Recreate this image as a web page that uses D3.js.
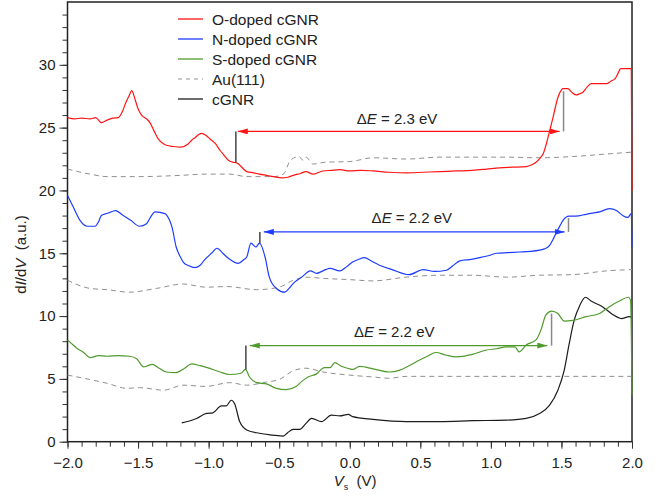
<!DOCTYPE html>
<html>
<head>
<meta charset="utf-8">
<script src="https://cdn.jsdelivr.net/npm/d3@7"></script>
<style>
  body { margin: 0; background: #fff; }
  svg { font-family: "Liberation Sans", Arial, sans-serif; }
</style>
</head>
<body>
<svg id="chart" width="658" height="500"></svg>
<script>

// spectra: [Vs (V), dI/dV (a.u.)]
let oDoped = [[-2.0,25.8],[-1.95,25.7],[-1.9,25.75],[-1.84,25.7],[-1.8,25.8],[-1.76,25.4],[-1.72,25.6],[-1.68,25.75],
  [-1.64,25.8],[-1.61,26.3],[-1.59,26.9],[-1.565,27.5],[-1.545,27.95],[-1.52,27.2],[-1.5,26.5],[-1.475,26.0],
  [-1.44,25.7],[-1.416,25.4],[-1.385,24.7],[-1.357,24.1],[-1.33,23.8],[-1.3,23.6],[-1.25,23.5],[-1.2,23.45],
  [-1.145,23.7],[-1.12,24.0],[-1.097,24.2],[-1.07,24.45],[-1.05,24.55],[-1.02,24.4],[-0.99,24.1],[-0.95,23.7],
  [-0.92,23.2],[-0.89,22.8],[-0.86,22.4],[-0.83,22.25],[-0.8,22.2],[-0.77,21.9],[-0.73,21.5],[-0.68,21.4],
  [-0.64,21.3],[-0.59,21.2],[-0.54,21.1],[-0.48,21.0],[-0.44,21.05],[-0.4,21.2],[-0.35,21.35],[-0.31,21.5],
  [-0.26,21.3],[-0.19,21.55],[-0.13,21.6],[-0.07,21.65],[0.0,21.55],[0.08,21.6],[0.165,21.55],[0.28,21.45],
  [0.4,21.4],[0.52,21.45],[0.64,21.5],[0.75,21.55],[0.87,21.6],[0.97,21.7],[1.06,21.8],[1.15,21.85],[1.25,21.9],
  [1.29,22.05],[1.32,22.25],[1.35,22.6],[1.37,22.9],[1.4,24.0],[1.42,24.9],[1.44,25.8],[1.475,27.4],[1.5,28.0],
  [1.51,28.1],[1.545,28.1],[1.575,27.8],[1.605,27.6],[1.63,27.7],[1.65,27.8],[1.68,28.2],[1.71,28.5],[1.76,28.5],
  [1.82,28.5],[1.85,28.7],[1.88,28.9],[1.9,29.3],[1.92,29.7],[1.96,29.7],[1.995,29.7],[2.0,20.0]];

let nDoped = [[-2.0,19.6],[-1.96,18.7],[-1.91,17.6],[-1.86,17.15],[-1.805,17.15],[-1.78,17.5],[-1.76,18.0],
  [-1.71,18.2],[-1.66,18.4],[-1.605,18.0],[-1.55,17.6],[-1.49,17.15],[-1.44,17.35],[-1.41,17.9],[-1.38,18.3],
  [-1.31,18.15],[-1.28,17.7],[-1.26,17.1],[-1.23,15.5],[-1.2,14.7],[-1.18,14.3],[-1.14,14.0],[-1.1,13.85],
  [-1.06,14.05],[-1.03,14.45],[-0.98,15.0],[-0.94,15.4],[-0.9,15.0],[-0.86,14.6],[-0.79,14.2],[-0.75,14.5],
  [-0.73,14.7],[-0.7,15.8],[-0.665,15.5],[-0.64,15.8],[-0.6,14.7],[-0.57,13.1],[-0.52,12.2],[-0.46,11.9],
  [-0.43,12.2],[-0.4,12.6],[-0.34,13.1],[-0.28,13.6],[-0.235,13.4],[-0.19,13.6],[-0.14,13.8],[-0.07,13.6],
  [-0.02,13.95],[0.02,14.3],[0.06,14.5],[0.105,14.65],[0.15,14.4],[0.21,14.05],[0.3,13.7],[0.42,13.3],[0.52,13.7],
  [0.6,13.55],[0.685,13.65],[0.73,14.0],[0.78,14.4],[0.85,14.5],[0.92,14.65],[0.98,14.8],[1.04,15.0],[1.12,15.05],
  [1.2,15.1],[1.28,15.15],[1.345,15.25],[1.38,15.35],[1.415,15.6],[1.44,16.1],[1.46,16.55],[1.49,17.2],
  [1.51,17.6],[1.555,17.95],[1.6,17.95],[1.675,18.1],[1.72,18.2],[1.77,18.3],[1.84,18.55],[1.89,18.4],
  [1.935,18.0],[1.97,17.85],[1.995,18.15],[2.0,15.5]];

let sDoped = [[-2.0,8.1],[-1.96,7.7],[-1.93,7.4],[-1.89,7.15],[-1.84,6.7],[-1.78,6.85],[-1.72,6.8],[-1.64,6.85],
  [-1.56,6.8],[-1.51,6.6],[-1.46,5.95],[-1.43,6.05],[-1.4,6.15],[-1.35,5.85],[-1.3,5.55],[-1.23,5.5],[-1.17,5.85],
  [-1.12,6.2],[-1.06,6.05],[-1.01,5.9],[-0.92,5.55],[-0.85,5.35],[-0.77,5.45],[-0.74,5.75],[-0.71,5.15],
  [-0.66,4.7],[-0.59,4.6],[-0.52,4.25],[-0.45,4.15],[-0.38,4.4],[-0.34,4.8],[-0.295,5.15],[-0.235,5.4],
  [-0.18,5.9],[-0.14,5.9],[-0.105,6.3],[-0.06,6.0],[0.0,5.8],[0.02,5.75],[0.07,6.0],[0.165,5.8],[0.28,5.55],
  [0.355,5.7],[0.43,6.1],[0.495,6.5],[0.55,6.8],[0.61,7.1],[0.68,6.9],[0.755,6.75],[0.87,6.95],[0.97,7.3],
  [1.04,7.4],[1.11,7.55],[1.17,7.55],[1.2,7.15],[1.25,7.7],[1.32,8.1],[1.355,8.9],[1.39,10.1],[1.43,10.4],
  [1.475,10.2],[1.52,9.6],[1.58,9.65],[1.675,9.95],[1.77,10.2],[1.84,10.75],[1.91,11.2],[1.975,11.5],
  [1.99,11.25],[2.0,3.7]];

let cgnr = [[-1.19,1.5],[-1.085,1.85],[-1.015,2.25],[-0.97,2.3],[-0.91,2.85],[-0.875,2.85],[-0.84,3.3],
  [-0.815,3.0],[-0.78,1.6],[-0.73,0.93],[-0.64,0.67],[-0.545,0.53],[-0.47,0.45],[-0.44,0.72],[-0.4,0.98],
  [-0.355,0.98],[-0.31,1.46],[-0.27,1.86],[-0.2,1.6],[-0.13,2.12],[-0.07,2.05],[-0.01,2.18],[0.02,1.99],
  [0.165,1.78],[0.4,1.6],[0.64,1.6],[0.87,1.67],[1.11,1.72],[1.25,1.86],[1.345,2.25],[1.415,2.9],[1.475,4.1],
  [1.52,5.7],[1.555,7.8],[1.59,9.65],[1.63,10.85],[1.67,11.5],[1.71,11.2],[1.79,10.75],[1.86,10.15],
  [1.925,9.8],[1.98,9.95],[2.0,9.9]];

// Au(111) reference spectra (dashed), one under each doped curve
let auTop = [[-2.0,21.7],[-1.84,21.3],[-1.72,21.1],[-1.5,21.1],[-1.2,21.2],[-1.02,21.3],[-0.85,21.3],[-0.73,21.1],
  [-0.54,21.1],[-0.47,21.3],[-0.42,22.4],[-0.36,22.7],[-0.33,22.4],[-0.31,22.65],[-0.26,22.1],[-0.17,22.25],
  [0.0,22.3],[0.165,22.6],[0.4,22.5],[0.64,22.65],[1.11,22.65],[1.345,22.6],[1.58,22.7],[1.82,22.9],[2.0,23.05]];
let auMid = [[-2.0,12.85],[-1.84,12.2],[-1.72,12.1],[-1.56,11.9],[-1.37,12.2],[-1.18,12.55],[-1.02,12.3],
  [-0.87,12.35],[-0.66,12.1],[-0.5,12.3],[-0.4,12.85],[-0.31,13.1],[-0.19,13.0],[0.0,12.9],[0.165,12.8],
  [0.4,13.1],[0.64,13.25],[0.87,13.25],[1.11,13.1],[1.345,13.25],[1.58,13.3],[1.82,13.6],[2.0,13.7]];
let auLow = [[-2.0,5.3],[-1.84,4.95],[-1.72,4.65],[-1.58,4.25],[-1.49,4.3],[-1.32,4.1],[-1.18,4.5],[-1.02,4.4],
  [-0.85,4.7],[-0.73,4.5],[-0.59,4.75],[-0.5,4.95],[-0.4,5.65],[-0.31,5.85],[-0.19,5.55],[0.0,5.3],
  [0.165,5.15],[0.28,5.05],[0.4,5.2],[0.64,5.2],[1.11,5.2],[1.58,5.2],[2.0,5.2]];

// gap annotations: arrow from -> to at level, marker bars at both onsets
let gapLabels = ['\u0394E = 2.3 eV', '\u0394E = 2.2 eV', '\u0394E = 2.2 eV'];
let gapArrows = [[-0.793, 1.487, 24.7], [-0.609, 1.522, 16.7], [-0.708, 1.40, 7.65]];
let gapBars = [
  [[-0.807, 22.2, 24.7], [1.515, 24.7, 27.9]],
  [[-0.637, 15.8, 16.7], [1.55, 16.7, 17.8]],
  [[-0.736, 5.75, 7.65], [1.43, 7.65, 10.2]]
];
let gapTextPos = [[0.05, 25.3], [0.155, 17.4], [0.03, 8.3]];

let legendNames = ['O-doped cGNR', 'N-doped cGNR', 'S-doped cGNR', 'Au(111)', 'cGNR'];
let xTicks = [-2.0, -1.5, -1.0, -0.5, 0.0, 0.5, 1.0, 1.5, 2.0];
let yTicks = [0, 5, 10, 15, 20, 25, 30];

let red = '#ff1414', blue = '#1e3cff', green = '#4f9a2c', black = '#1c1c1c', grey = '#8f8f8f';

let margin = {top: 2, right: 26, bottom: 58.3, left: 67.5};
let W = 658 - margin.left - margin.right;
let H = 500 - margin.top - margin.bottom;

let svg = d3.select('#chart');
let g = svg.append('g').attr('transform', 'translate(' + margin.left + ',' + margin.top + ')');

let x = d3.scaleLinear().domain([-2, 2]).range([0, W]);
let y = d3.scaleLinear().domain([0, 35]).range([H, 0]);

// minor + major ticks
g.append('g')
    .attr('transform', 'translate(0,' + H + ')')
    .call(d3.axisBottom(x).tickValues(d3.range(-20, 21).map(function(d){ return d / 10; }))
      .tickSize(5).tickFormat(''))
    .call(function(a){ a.select('.domain').remove(); a.selectAll('line').attr('stroke', '#333'); });
g.append('g')
    .attr('class', 'xaxis')
    .attr('transform', 'translate(0,' + H + ')')
    .call(d3.axisBottom(x).tickValues(xTicks).tickSize(7).tickPadding(9).tickFormat(d3.format('.1f')))
    .call(function(a){ a.select('.domain').remove(); a.selectAll('line').attr('stroke', '#333'); });

g.append('g')
    .call(d3.axisLeft(y).tickValues(d3.range(0, 35)).tickSize(5).tickFormat(''))
    .call(function(a){ a.select('.domain').remove(); a.selectAll('line').attr('stroke', '#333'); });
g.append('g')
    .call(d3.axisLeft(y).tickValues(yTicks).tickSize(8).tickPadding(4))
    .call(function(a){ a.select('.domain').remove(); a.selectAll('line').attr('stroke', '#333'); });

g.selectAll('.tick text')
    .attr('font-size', 15)
    .attr('font-family', '"Liberation Sans", Arial, sans-serif')
    .attr('fill', '#222');

// frame
g.append('rect')
    .attr('width', W).attr('height', H)
    .attr('fill', 'none').attr('stroke', '#222').attr('stroke-width', 1.5);

let line = d3.line()
    .curve(d3.curveMonotoneX)
    .x(function(d){ return x(d[0]); })
    .y(function(d){ return y(d[1]); });

[auTop, auMid, auLow].forEach(function(s){
  g.append('path').datum(s)
      .attr('d', line).attr('fill', 'none')
      .attr('stroke', grey).attr('stroke-width', 1).attr('stroke-dasharray', '5,4');
});

let series = [[cgnr, black], [sDoped, green], [nDoped, blue], [oDoped, red]];
series.forEach(function(s){
  g.append('path').datum(s[0])
      .attr('d', line).attr('fill', 'none')
      .attr('stroke', s[1]).attr('stroke-width', 1.2)
      .attr('stroke-linejoin', 'round');
});

// arrow heads
let defs = svg.append('defs');
[red, blue, green].forEach(function(c, i){
  defs.append('marker')
      .attr('id', 'head' + i)
      .attr('viewBox', '0 0 10 6')
      .attr('refX', 10).attr('refY', 3)
      .attr('markerWidth', 10).attr('markerHeight', 6)
      .attr('markerUnits', 'userSpaceOnUse')
      .attr('orient', 'auto-start-reverse')
    .append('path').attr('d', 'M0,0L10,3L0,6Z').attr('fill', c);
});

let gapColors = [red, blue, green];
gapArrows.forEach(function(a, i){
  g.append('line')
      .attr('x1', x(a[0])).attr('x2', x(a[1]))
      .attr('y1', y(a[2])).attr('y2', y(a[2]))
      .attr('stroke', gapColors[i]).attr('stroke-width', 1.4)
      .attr('marker-start', 'url(#head' + i + ')')
      .attr('marker-end', 'url(#head' + i + ')');
  gapBars[i].forEach(function(b, j){
    g.append('line')
        .attr('x1', x(b[0])).attr('x2', x(b[0]))
        .attr('y1', y(b[1])).attr('y2', y(b[2]))
        .attr('stroke', j == 0 ? '#444' : '#888').attr('stroke-width', 1.5);
  });
  let t = g.append('text')
      .attr('x', x(gapTextPos[i][0])).attr('y', y(gapTextPos[i][1]))
      .attr('font-size', 15).attr('fill', '#222');
  t.append('tspan').text('\u0394');
  t.append('tspan').attr('font-style', 'italic').text('E');
  t.append('tspan').text(gapLabels[i].slice(2));
});

// legend
let legendColors = [red, blue, green, grey, black];
let lg = svg.append('g').attr('transform', 'translate(178,19)');
legendNames.forEach(function(name, i){
  let row = lg.append('g').attr('transform', 'translate(0,' + (i * 20) + ')');
  row.append('line')
      .attr('x1', 0).attr('x2', 25).attr('y1', 0).attr('y2', 0)
      .attr('stroke', legendColors[i]).attr('stroke-width', i == 3 ? 1 : 1.3)
      .attr('stroke-dasharray', i == 3 ? '4,4' : null);
  row.append('text')
      .attr('x', 34).attr('y', 5.5)
      .attr('font-size', 15.5).attr('fill', '#222')
      .text(name);
});

// axis titles
let yl = svg.append('text')
    .attr('transform', 'translate(26,' + (margin.top + y(14.9)) + ') rotate(-90)')
    .attr('text-anchor', 'middle')
    .attr('font-size', 15).attr('fill', '#222');
yl.append('tspan').text('d');
yl.append('tspan').attr('font-style', 'italic').text('I');
yl.append('tspan').text('/d');
yl.append('tspan').attr('font-style', 'italic').text('V');
yl.append('tspan').text('\u00a0\u00a0(a.u.)');

let xl = svg.append('text')
    .attr('x', margin.left + x(0) - 16).attr('y', 486)
    .attr('font-size', 15).attr('fill', '#222');
xl.append('tspan').attr('font-style', 'italic').text('V');
xl.append('tspan').attr('font-size', 9).attr('dy', 4).text('s');
xl.append('tspan').attr('dy', -4).text('\u00a0\u00a0(V)');

</script>
</body>
</html>
